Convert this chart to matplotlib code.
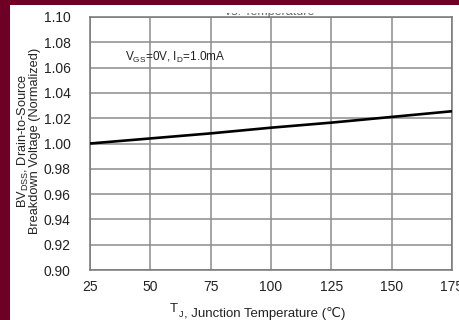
import matplotlib.pyplot as plt
from matplotlib.patches import Rectangle

# data
temp = [25, 50, 75, 100, 125, 150, 175]
bv_norm = [1.000, 1.004, 1.008, 1.0125, 1.0165, 1.021, 1.0255]
x_ticks = [25, 50, 75, 100, 125, 150, 175]
y_ticks = [0.90, 0.92, 0.94, 0.96, 0.98, 1.00, 1.02, 1.04, 1.06, 1.08, 1.10]

plt.rcParams['font.family'] = ['Liberation Sans', 'DejaVu Sans']
txt = '#222222'

W, H = 459, 320
fig = plt.figure(figsize=(W / 100, H / 100), dpi=100)
ax = fig.add_axes([90 / W, 1 - 270 / H, 362 / W, 253 / H])

ax.plot(temp, bv_norm, color='black', linewidth=1.9, zorder=3)

ax.set_xlim(25, 175)
ax.set_ylim(0.90, 1.10)
ax.set_xticks(x_ticks)
ax.set_yticks(y_ticks)
ax.set_yticklabels([f'{v:.2f}' for v in y_ticks])
ax.tick_params(length=0, labelsize=10, colors=txt)
ax.tick_params(axis='y', pad=14)
ax.tick_params(axis='x', pad=7)
ax.grid(True, color='#8c8c8c', linewidth=1.1)
for s in ax.spines.values():
    s.set_color('#777777')
    s.set_linewidth(1.1)

# x label: T, subscript J, then the rest (plain text so the ℃ glyph falls back to DejaVu)
t1 = fig.text(170 / W, 1 - 312 / H, 'T', fontsize=9.5, color=txt, va='baseline')
t2 = ax.annotate('J', xy=(1, 0), xycoords=t1, xytext=(0.5, -1.2), textcoords='offset points',
                 fontsize=6.5, color=txt, va='baseline', ha='left')
ax.annotate(', Junction Temperature (\u2103)', xy=(1, 0), xycoords=t2, xytext=(0.3, 1.2),
            textcoords='offset points', fontsize=9.5, color=txt, va='baseline', ha='left')

ax.set_ylabel('BV$_\\mathregular{DSS}$, Drain-to-Source\nBreakdown Voltage (Normalized)',
              fontsize=9.2, color=txt, linespacing=0.85)
ax.yaxis.set_label_coords(-0.134, 0.51)

ax.text(39.5, 1.068, 'V$_\\mathregular{GS}$=0V, I$_\\mathregular{D}$=1.0mA',
        fontsize=8.5, color=txt, va='center')

# title fragment cut off at the top of the image
fig.text(270 / W, 1 - 14.5 / H, 'vs. Temperature', fontsize=9, color='#666666',
         ha='center', va='baseline', zorder=1)
fig.patches.append(Rectangle((200 / W, 1 - 12.5 / H), 140 / W, 12.5 / H,
                             transform=fig.transFigure,
                             facecolor='white', edgecolor='none', zorder=5))
# maroon frame left and top
frame = '#6e0026'
fig.patches.append(Rectangle((0, 0), 10 / W, 1, transform=fig.transFigure,
                             facecolor=frame, edgecolor='none', zorder=6))
fig.patches.append(Rectangle((0, 1 - 5 / H), 1, 5 / H, transform=fig.transFigure,
                             facecolor=frame, edgecolor='none', zorder=6))

plt.savefig('out.png', dpi=100)
